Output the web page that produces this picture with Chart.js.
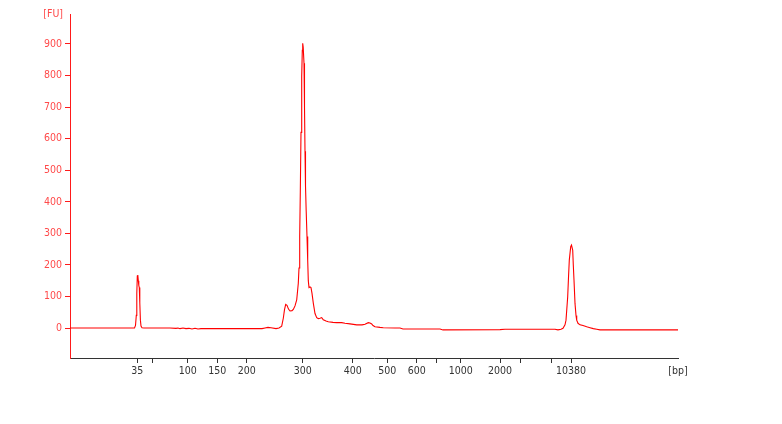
<!DOCTYPE html>
<html>
<head>
<meta charset="utf-8">
<script src="https://cdn.jsdelivr.net/npm/chart.js@4/dist/chart.umd.min.js"></script>
<style>
  html, body { margin: 0; padding: 0; background: #fff; }
  #c { display: block; }
</style>
</head>
<body>
<canvas id="c" width="782" height="424"></canvas>
<script>
// Migration time (arbitrary seconds) and fluorescence (FU)
const times = [
  20.0, 26.0, 26.45, 26.55, 26.63, 26.68, 26.73, 26.78, 26.83, 26.88, 26.93, 26.98, 27.04, 27.1, 27.2, 27.4,
  30.0, 30.6, 30.8, 31.0, 31.3, 31.6, 31.9, 32.2, 32.5, 32.8, 33.1, 36.0, 39.2, 39.5, 39.8, 40.1, 40.6, 40.9,
  41.17, 41.33, 41.45, 41.57, 41.7, 41.85, 42.0, 42.2, 42.33, 42.5, 42.67, 42.83, 42.9, 42.97, 43.03, 43.1,
  43.17, 43.23, 43.27, 43.32, 43.4, 43.45, 43.5, 43.55, 43.62, 43.7, 43.77, 43.83, 43.9, 44.0, 44.1, 44.2,
  44.33, 44.5, 44.67, 44.83, 45.0, 45.17, 45.33, 45.6, 45.83, 46.3, 46.67, 47.17, 47.5, 48.0, 48.67, 49.2,
  49.5, 49.83, 50.0, 50.17, 50.3, 50.5, 51.0, 51.33, 52.5, 53.0, 53.3, 57.0, 57.3, 63.0, 63.5, 68.5, 68.8,
  69.1, 69.3, 69.5, 69.6, 69.77, 69.85, 69.93, 70.07, 70.15, 70.27, 70.33, 70.4, 70.5, 70.6, 70.67, 70.8,
  71.0, 71.3, 71.67, 72.0, 72.33, 72.67, 73.0, 80.8
];
const fu = [
  0, 0, 0, 8, 40, 110, 165, 168, 150, 135, 128, 80, 25, 6, 1, 0,
  0, -1, 0, -2, 0, -2, -1, -3, -1, -3, -2, -2, -2, 0, 2, 1, -2, 0,
  6, 31, 58, 75, 72, 60, 54, 55, 59, 70, 89, 142, 190, 290, 430, 620,
  796, 880, 902, 890, 839, 700, 560, 450, 370, 290, 215, 150, 128, 130, 128, 110,
  79, 46, 33, 30, 31, 33, 26, 22, 20, 18, 17, 17, 15, 13, 10, 10,
  12, 17, 16, 13, 8, 4, 2, 1, 0, 0, -3, -3, -6, -5, -4, -4, -6,
  -4, -1, 10, 25, 99, 160, 215, 258, 263, 247, 200, 152, 78, 40, 25, 15,
  10, 8, 4, 1, -2, -4, -6, -6
];

// Ladder positions (migration time) and their size labels
const ladderPos    = [26.73, 28.23, 31.77, 34.73, 37.67, 43.27, 48.27, 51.73, 54.67, 56.67, 59.07, 63.0, 65.0, 68.17, 70.1];
const ladderLabels = ['35', '', '100', '150', '200', '300', '400', '500', '600', '', '1000', '2000', '', '', '10380'];
const yTicks = [0, 100, 200, 300, 400, 500, 600, 700, 800, 900];

const X_MIN = 20, X_MAX = 80.8, Y_MIN = -95, Y_MAX = 995;

const FONT = { family: 'Tahoma, "DejaVu Sans Condensed", "DejaVu Sans", sans-serif', size: 10.5 };
const RED = '#ff1a1a';
const PINK = '#ff4a4a';
const DARK = '#333333';

const unitsPlugin = {
  id: 'units',
  afterDraw(chart) {
    const { ctx, chartArea } = chart;
    ctx.save();
    ctx.font = `${FONT.size}px ${FONT.family}`;
    ctx.textBaseline = 'middle';
    ctx.fillStyle = PINK;
    ctx.textAlign = 'right';
    ctx.fillText('[FU]', chartArea.left - 7, chartArea.top);
    ctx.fillStyle = DARK;
    ctx.textAlign = 'center';
    ctx.fillText('[bp]', chartArea.right, chartArea.bottom + 13);
    ctx.restore();
  }
};

new Chart(document.getElementById('c'), {
  type: 'line',
  data: {
    datasets: [{
      data: times.map((t, i) => ({ x: t, y: fu[i] })),
      borderColor: 'rgb(255,0,0)',
      borderWidth: 1.1,
      pointRadius: 0,
      tension: 0,
      fill: false
    }]
  },
  options: {
    responsive: false,
    animation: false,
    layout: { padding: { left: 0, top: 14, right: 104, bottom: 0 } },
    plugins: { legend: { display: false }, tooltip: { enabled: false } },
    scales: {
      x: {
        type: 'linear', min: X_MIN, max: X_MAX,
        afterBuildTicks(s) { s.ticks = ladderPos.map(v => ({ value: v })); },
        afterFit(s) { s.height = 66; },
        ticks: {
          autoSkip: false, maxRotation: 0, minRotation: 0,
          color: DARK, font: FONT, padding: 2,
          callback: (v, i) => ladderLabels[i]
        },
        grid: { drawOnChartArea: false, drawTicks: true, tickLength: 5, color: DARK },
        border: { color: DARK, width: 1 }
      },
      y: {
        min: Y_MIN, max: Y_MAX,
        afterBuildTicks(s) { s.ticks = yTicks.map(v => ({ value: v })); },
        afterFit(s) { s.width = 70; },
        ticks: { color: PINK, font: FONT, padding: 3 },
        grid: { drawOnChartArea: false, drawTicks: true, tickLength: 5, color: RED },
        border: { color: RED, width: 1 }
      }
    }
  },
  plugins: [unitsPlugin]
});
</script>
</body>
</html>
